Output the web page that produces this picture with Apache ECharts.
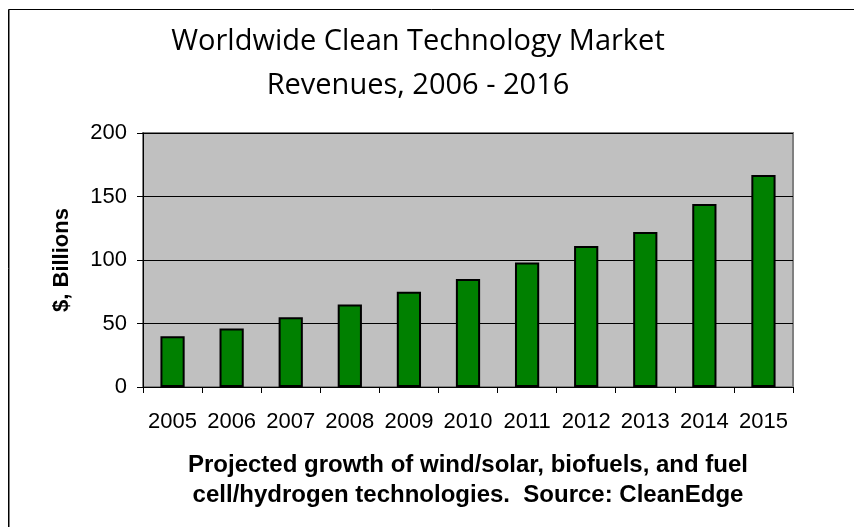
<!DOCTYPE html>
<html>
<head>
<meta charset="utf-8">
<title>Worldwide Clean Technology Market Revenues</title>
<script src="https://cdn.jsdelivr.net/npm/echarts@6/dist/echarts.min.js"></script>
<style>
  html, body { margin: 0; padding: 0; background: #fff; }
  #chart { width: 854px; height: 527px; }
</style>
</head>
<body>
<div id="chart"></div>
<script>
  // chart data
  const years = ['2005', '2006', '2007', '2008', '2009', '2010', '2011', '2012', '2013', '2014', '2015']
  const revenues = [40, 46, 55, 65, 75, 85, 98, 111, 122, 144, 167]
  const yTicks = { min: 0, max: 200, interval: 50 }

  const dom = echarts.init(document.getElementById('chart'))

  const option = {
    animation: false,
    backgroundColor: '#fff',
    title: {
      text: 'Worldwide Clean Technology Market\nRevenues, 2006 - 2016',
      left: 418,
      top: 20,
      padding: 0,
      textAlign: 'center',
      textStyle: {
        color: '#000',
        fontFamily: 'Open Sans',
        fontWeight: 'normal',
        fontSize: 29,
        lineHeight: 44
      }
    },
    graphic: [{
      type: 'rect',
      shape: { x: 8.5, y: 9.5, width: 900, height: 600 },
      style: { fill: 'none', stroke: '#000', lineWidth: 1 }
    }, {
      type: 'line',
      shape: { x1: 9.5, y1: 10, x2: 9.5, y2: 600 },
      style: { stroke: '#808080', lineWidth: 1 }
    }],
    grid: {
      left: 143,
      right: 61,
      top: 133,
      bottom: 140,
      show: true,
      backgroundColor: '#c0c0c0',
      borderColor: '#808080',
      borderWidth: 2
    },
    xAxis: {
      type: 'category',
      data: years,
      name: 'Projected growth of wind/solar, biofuels, and fuel\ncell/hydrogen technologies.  Source: CleanEdge',
      nameLocation: 'middle',
      nameGap: 63,
      nameTextStyle: {
        color: '#000',
        fontFamily: 'Liberation Sans',
        fontWeight: 'bold',
        fontSize: 24,
        lineHeight: 30
      },
      axisLine: { lineStyle: { color: '#000', width: 1 } },
      axisTick: { show: true, interval: 0, length: 6, lineStyle: { color: '#000' } },
      axisLabel: {
        interval: 0,
        color: '#000',
        fontFamily: 'Liberation Sans',
        fontSize: 22,
        margin: 24
      }
    },
    yAxis: {
      type: 'value',
      min: yTicks.min,
      max: yTicks.max,
      interval: yTicks.interval,
      name: '$, Billions',
      nameLocation: 'middle',
      nameRotate: 90,
      nameGap: 70,
      nameTextStyle: {
        color: '#000',
        fontFamily: 'Liberation Sans',
        fontWeight: 'bold',
        fontSize: 22
      },
      axisLine: { show: true, lineStyle: { color: '#000', width: 1 } },
      axisTick: { show: true, length: 6, lineStyle: { color: '#000' } },
      axisLabel: {
        color: '#000',
        fontFamily: 'Liberation Sans',
        fontSize: 22,
        margin: 16
      },
      splitLine: { show: true, lineStyle: { color: '#000', width: 1 } }
    },
    series: [{
      type: 'bar',
      data: revenues,
      barWidth: '41%',
      itemStyle: {
        color: '#008000',
        borderColor: '#000',
        borderWidth: 2
      }
    }]
  }

  dom.setOption(option)
  window.addEventListener('resize', () => dom.resize())
</script>
</body>
</html>
